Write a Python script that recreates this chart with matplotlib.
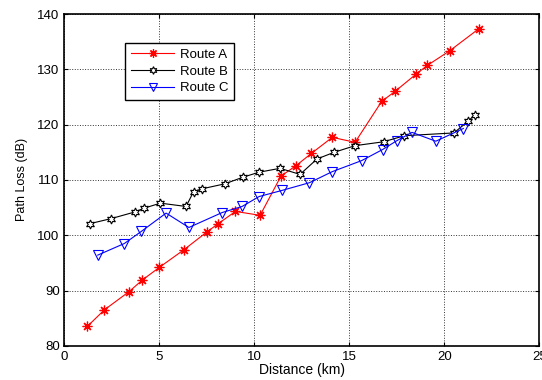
import matplotlib
matplotlib.use("Agg")
import matplotlib.pyplot as plt

plt.rcParams['font.family'] = ['Liberation Sans', 'DejaVu Sans']

# Route A
dist_a = [1.2, 2.1, 3.4, 4.1, 5.0, 6.3, 7.5, 8.1, 9.0, 10.3, 11.4, 12.2, 13.0,
          14.1, 15.3, 16.7, 17.4, 18.5, 19.1, 20.3, 21.8]
loss_a = [83.5, 86.5, 89.8, 91.9, 94.2, 97.4, 100.6, 102.1, 104.3, 103.6, 110.7,
          112.6, 114.8, 117.7, 116.8, 124.2, 126.0, 129.1, 130.7, 133.4, 137.3]

# Route B
dist_b = [1.35, 2.45, 3.7, 4.2, 5.05, 6.4, 6.8, 7.25, 8.45, 9.4, 10.25, 11.35,
          12.4, 13.3, 14.2, 15.3, 16.8, 17.9, 20.5, 21.25, 21.6]
loss_b = [102.1, 103.0, 104.2, 104.9, 105.8, 105.2, 107.9, 108.4, 109.3, 110.5,
          111.4, 112.1, 111.0, 113.8, 115.0, 116.2, 116.9, 118.0, 118.5, 120.6, 121.8]

# Route C
dist_c = [1.75, 3.15, 4.05, 5.35, 6.55, 8.3, 9.35, 10.25, 11.45, 12.9, 14.1,
          15.65, 16.75, 17.5, 18.3, 19.55, 21.0]
loss_c = [96.4, 98.5, 100.7, 104.0, 101.4, 104.1, 105.2, 107.0, 108.1, 109.5,
          111.5, 113.5, 115.5, 117.1, 118.6, 117.0, 119.3]

fig = plt.figure(figsize=(5.42, 3.80), dpi=100)
ax = fig.add_axes([0.119, 0.09, 0.876, 0.873])

ax.plot(dist_a, loss_a, '-', color='red', linewidth=0.8,
        marker=(8, 2, 0), markersize=7, markeredgewidth=0.9, label='Route A')
ax.plot(dist_b, loss_b, '-', color='black', linewidth=0.8,
        marker=(6, 1, 0), markersize=6.5, markerfacecolor='white',
        markeredgewidth=0.8, label='Route B')
ax.plot(dist_c, loss_c, '-', color='blue', linewidth=0.8,
        marker='v', markersize=7, markerfacecolor='none',
        markeredgewidth=0.8, label='Route C')

ax.set_xlim(0, 25)
ax.set_ylim(80, 140)
ax.set_xticks(range(0, 26, 5))
ax.set_yticks(range(80, 141, 10))
ax.grid(True, color='#333333', linestyle=':', linewidth=0.7)
ax.tick_params(direction='in', top=True, right=True, labelsize=9.5, length=3)
for s in ax.spines.values():
    s.set_linewidth(1.2)

ax.set_xlabel('Distance (km)', fontsize=10, labelpad=0)
ax.set_ylabel('Path Loss (dB)', fontsize=9, labelpad=7)

leg = ax.legend(loc='upper left', bbox_to_anchor=(0.127, 0.913), fontsize=9.5,
                fancybox=False, edgecolor='black', framealpha=1,
                borderaxespad=0, handlelength=3.3, handletextpad=0.4,
                borderpad=0.45, labelspacing=0.33, markerscale=0.85)
leg.get_frame().set_linewidth(1.0)

fig.savefig('out.png', dpi=100)
